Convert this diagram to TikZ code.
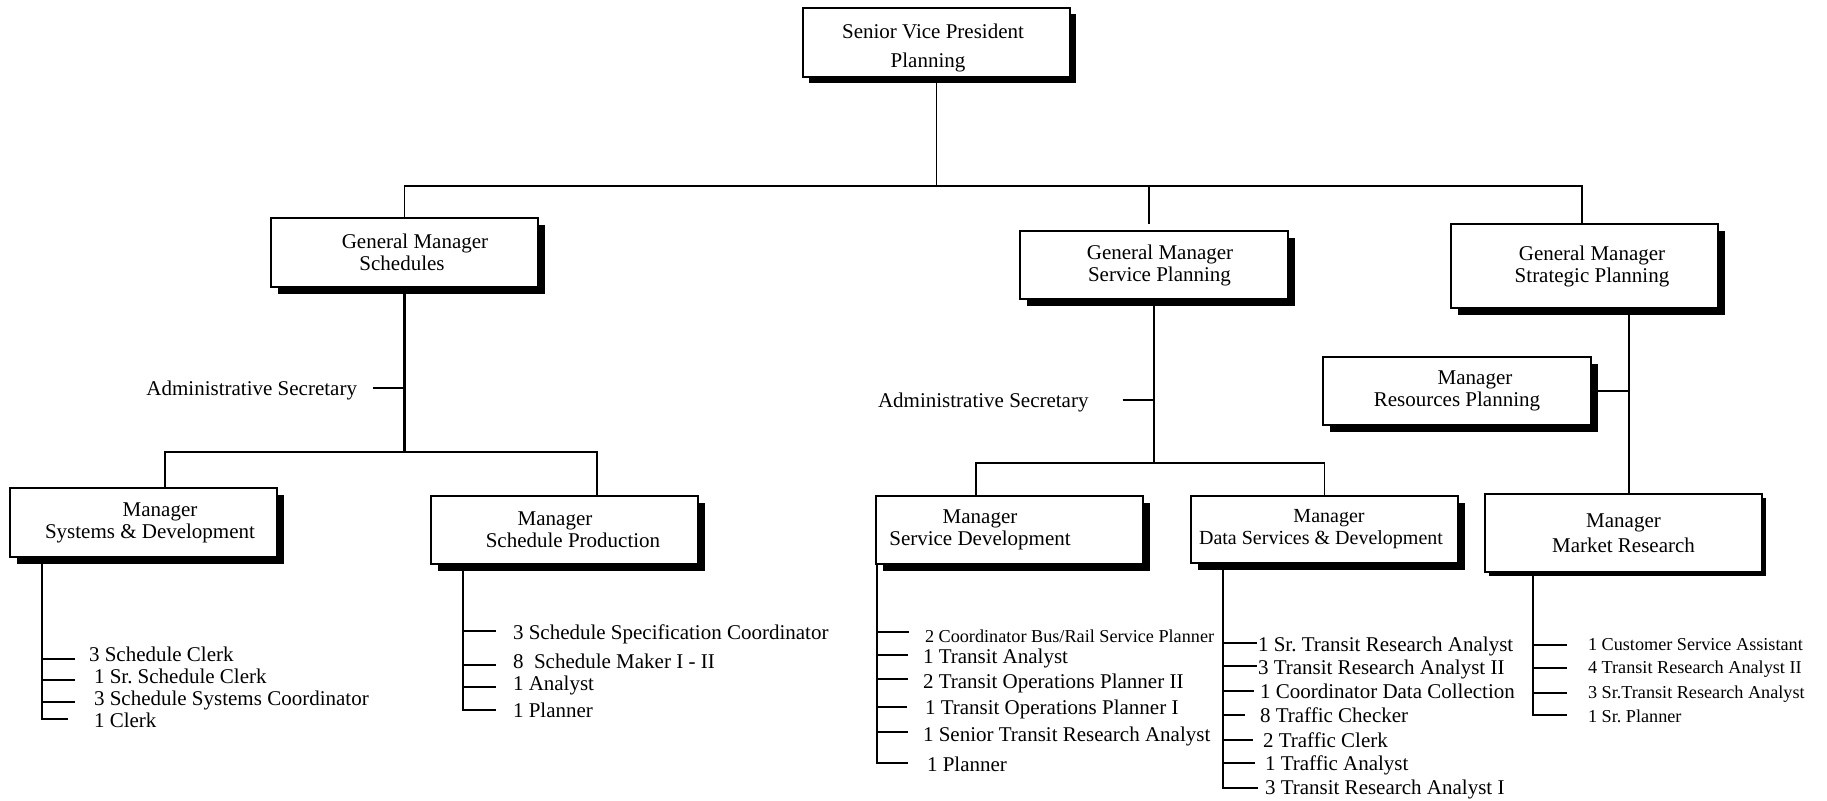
\documentclass[tikz,border=0pt]{standalone}
\usepackage{fontspec}
\setmainfont{Liberation Serif}
\usetikzlibrary{shadows,calc}
\frenchspacing
\tikzset{
  orgbox/.style={draw, line width=1.1pt, fill=white, inner sep=0pt, outer sep=0pt, align=center,
    font=\fontsize{10.5}{11}\selectfont,
    drop shadow={shadow xshift=#1, shadow yshift=-#1, fill=black, opacity=1}},
  orgbox/.default=3.5pt,
  item/.style={anchor=base west, inner sep=0pt, outer sep=0pt, font=\fontsize{10.5}{11}\selectfont},
  smallitem/.style={item, font=\fontsize{9.1}{10}\selectfont},
  seclabel/.style={inner sep=0pt, outer sep=0pt, font=\fontsize{10.5}{11}\selectfont},
  thinline/.style={line width=0.75pt},
  thickline/.style={line width=1.1pt},
  listline/.style={line width=1.2pt}
}
\newcommand\ltick[3]{\draw[listline] (#1 |- 0,#2) -- (#3,#2);}
\begin{document}
\begin{tikzpicture}[x=0.5pt,y=-0.5pt]
\fill[white] (0,0) rectangle (1827,800);
\useasboundingbox (0,0) rectangle (1827,800);

% ---- boxes ----
\node[orgbox=2.75pt, minimum width=133.5pt, minimum height=34.5pt, font=\fontsize{10.5}{14.5}\selectfont]
  (svp) at (936.5,42.5) {\rule{0pt}{12.5pt}Senior Vice President\hspace*{3.5pt}\\Planning\hspace*{8.5pt}};
\node[orgbox, minimum width=133.5pt, minimum height=34.5pt]
  (gms) at (404.5,252.5) {\hspace*{10.5pt}General Manager\\Schedules\hspace*{2.5pt}};
\node[orgbox, minimum width=134pt, minimum height=34pt]
  (gmsp) at (1154,265) {\hspace*{6pt}General Manager\\\hspace*{5.5pt}Service Planning};
\node[orgbox, minimum width=133.5pt, minimum height=42pt]
  (gmst) at (1584.5,266) {\hspace*{7.5pt}General Manager\\\hspace*{7.5pt}Strategic Planning};
\node[orgbox, minimum width=133.5pt, minimum height=34.5pt]
  (msd) at (143.5,522.5) {\hspace*{16.5pt}Manager\\\hspace*{6.5pt}Systems \& Development};
\node[orgbox, minimum width=133.5pt, minimum height=34pt]
  (msp) at (564.5,530) {Manager\hspace*{9.5pt}\\\hspace*{8.5pt}Schedule Production};
\node[orgbox, minimum width=133.5pt, minimum height=34pt]
  (msvd) at (1009.5,530) {Manager\hspace*{29.5pt}\\Service Development\hspace*{29.5pt}};
\node[orgbox, minimum width=133.5pt, minimum height=33.5pt, font=\fontsize{10}{11}\selectfont]
  (mds) at (1324.5,529.5) {\hspace*{4.5pt}Manager\\Data Services \& Development\hspace*{3.5pt}};
\node[orgbox, minimum width=134pt, minimum height=34pt]
  (mrp) at (1457,391) {\hspace*{18pt}Manager\\Resources Planning};
\node[orgbox=1.75pt, minimum width=138.5pt, minimum height=39pt, font=\fontsize{10.5}{12.5}\selectfont]
  (mmr) at (1623.5,533) {Manager\\Market Research};

% ---- top level connectors ----
\coordinate (topbus) at (0,186);
\draw[thinline] (svp.south) -- (svp.south |- topbus);
\coordinate (gstn) at ($(gmst.north)+(-2.5,0)$);
\draw[thinline] (gms.north) -- (gms.north |- topbus) -- (gstn |- topbus) -- (gstn);
\coordinate (gspn) at ($(gmsp.north)+(-5,0)$);
\draw[thinline] (gspn |- topbus) -- ($(gspn)+(0,-7)$);

% ---- schedules branch ----
\coordinate (lbusA) at (0,452);
\draw[thickline] (gms.south) -- (gms.south |- lbusA);
\node[seclabel, anchor=base east] (adminA) at (357,395) {Administrative Secretary};
\draw[thickline] ($(adminA.base east)+(16,-7)$) -- ($(gms.south |- adminA.base)+(0,-7)$);
\coordinate (msdn) at ($(msd.north)+(21.5,0)$);
\coordinate (mspn) at ($(msp.north)+(32.5,0)$);
\draw[thinline] (msdn) -- (msdn |- lbusA) -- (mspn |- lbusA) -- (mspn);

% ---- service planning branch ----
\coordinate (lbusB) at (0,463);
\draw[thickline] (gmsp.south) -- (gmsp.south |- lbusB);
\node[seclabel, anchor=base west] (adminB) at (878,407) {Administrative Secretary};
\draw[thickline] ($(adminB.base east)+(34,-7)$) -- ($(gmsp.south |- adminB.base)+(0,-7)$);
\coordinate (msvdn) at ($(msvd.north)+(-33.5,0)$);
\draw[thinline] (msvdn) -- (msvdn |- lbusB) -- (mds.north |- lbusB) -- (mds.north);

% ---- strategic planning branch ----
\coordinate (stv) at ($(gmst.south)+(44.5,0)$);
\draw[thickline] (stv) -- (stv |- mmr.north);
\draw[thickline] (mrp.east) -- (mrp.east -| stv);

% ---- list: systems & development ----
\coordinate (va) at ($(msd.south)+(-101.5,0)$);
\draw[listline] (va) |- (68,719);
\ltick{va}{659}{75}
\ltick{va}{680}{75}
\ltick{va}{702}{75}
\node[item] (a1) at (89,661) {3 Schedule Clerk};
\node[item] (a2) at (94,683) {1 Sr. Schedule Clerk};
\node[item] (a3) at (94,705) {3 Schedule Systems Coordinator};
\node[item] (a4) at (94,727) {1 Clerk};

% ---- list: schedule production ----
\coordinate (vb) at ($(msp.south)+(-101.5,0)$);
\draw[listline] (vb) |- (496,710);
\ltick{vb}{631}{496}
\ltick{vb}{665}{496}
\ltick{vb}{687}{496}
\node[item] (b1) at (513,639) {3 Schedule Specification Coordinator};
\node[item] (b2) at (513,668) {8\ \ Schedule Maker I - II};
\node[item] (b3) at (513,690) {1 Analyst};
\node[item] (b4) at (513,717) {1 Planner};

% ---- list: service development ----
\coordinate (vc) at ($(msvd.south)+(-132.5,0)$);
\draw[listline] (vc) |- (908,763);
\ltick{vc}{632}{909}
\ltick{vc}{655}{908}
\ltick{vc}{679}{908}
\ltick{vc}{707}{907}
\ltick{vc}{732}{908}
\node[smallitem] (c1) at (925,642) {2 Coordinator Bus/Rail Service Planner};
\node[item] (c2) at (923,663) {1 Transit Analyst};
\node[item] (c3) at (923,688) {2 Transit Operations Planner II};
\node[item] (c4) at (925,714) {1 Transit Operations Planner I};
\node[item] (c5) at (923,741) {1 Senior Transit Research Analyst};
\node[item] (c6) at (927,771) {1 Planner};

% ---- list: data services ----
\coordinate (vd) at ($(mds.south)+(-101.5,0)$);
\draw[listline] (vd) |- (1258,788);
\ltick{vd}{643}{1257}
\ltick{vd}{666}{1257}
\ltick{vd}{691}{1254}
\ltick{vd}{715}{1245}
\ltick{vd}{740}{1253}
\ltick{vd}{763}{1255}
\node[item] (d1) at (1258,651) {1 Sr. Transit Research Analyst};
\node[item] (d2) at (1258,674) {3 Transit Research Analyst II};
\node[item] (d3) at (1260,698) {1 Coordinator Data Collection};
\node[item] (d4) at (1260,722) {8 Traffic Checker};
\node[item] (d5) at (1263,747) {2 Traffic Clerk};
\node[item] (d6) at (1265,770) {1 Traffic Analyst};
\node[item] (d7) at (1265,794) {3 Transit Research Analyst I};

% ---- list: market research ----
\coordinate (ve) at ($(mmr.south)+(-90.5,0)$);
\draw[listline] (ve) |- (1567,715);
\ltick{ve}{645}{1567}
\ltick{ve}{668}{1567}
\ltick{ve}{693}{1567}
\node[smallitem] (e1) at (1588,650) {1 Customer Service Assistant};
\node[smallitem] (e2) at (1588,673) {4 Transit Research Analyst II};
\node[smallitem] (e3) at (1588,698) {3 Sr.Transit Research Analyst};
\node[smallitem] (e4) at (1588,722) {1 Sr. Planner};
\end{tikzpicture}
\end{document}
